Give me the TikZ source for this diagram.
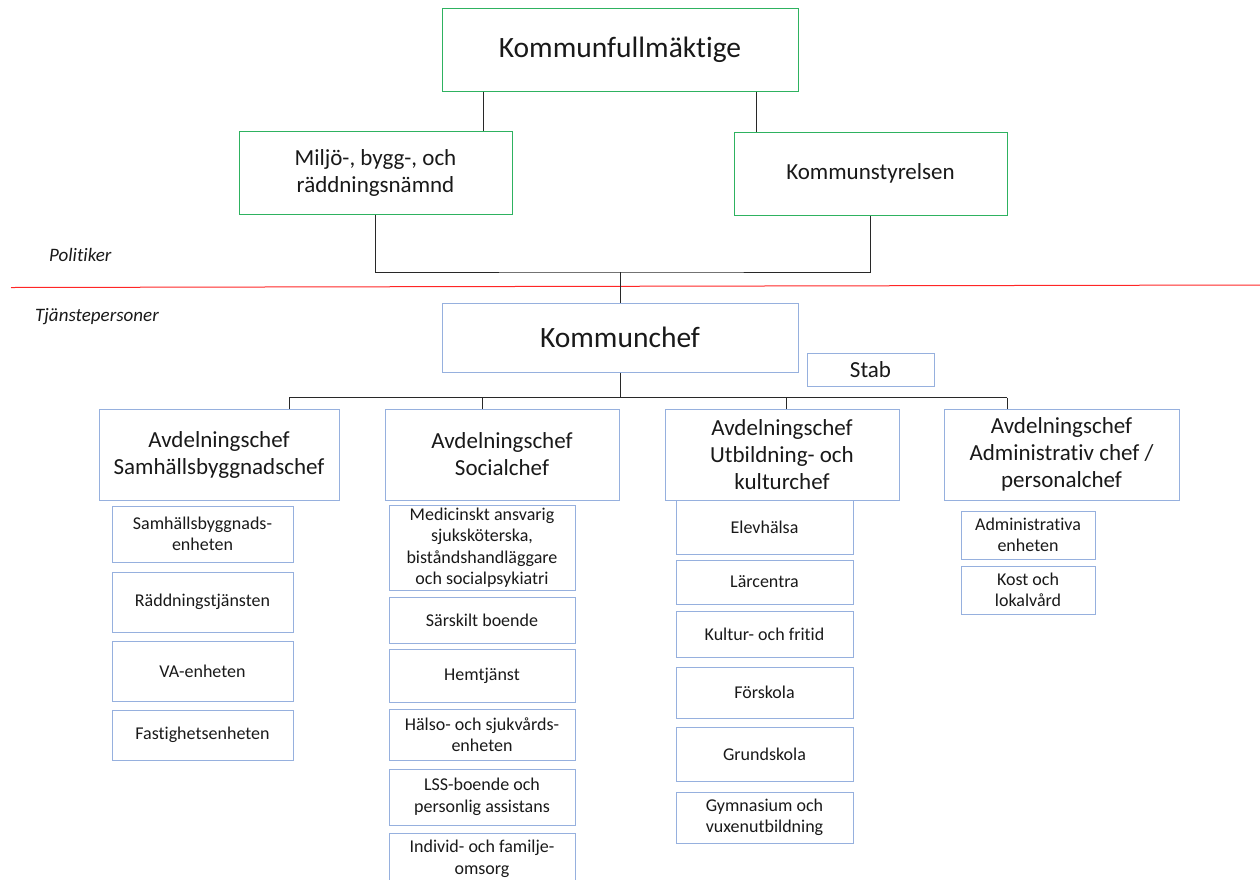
\documentclass[tikz,border=0pt]{standalone}
\usepackage{fontspec}
\setmainfont[Ligatures=NoCommon]{Carlito}
\usepackage{xcolor}
\usepackage{tikz}
\usetikzlibrary{positioning, calc}

\definecolor{polgreen}{RGB}{46,178,96}
\definecolor{tjblue}{RGB}{150,176,222}
\definecolor{linjegra}{RGB}{40,40,40}
\definecolor{textgra}{RGB}{25,25,25}

\begin{document}
\begin{tikzpicture}[x=1pt, y=-1pt,
    box/.style={rectangle, inner sep=0pt, align=center, text=textgra},
    polbox/.style={box, draw=polgreen, line width=1pt},
    tjbox/.style={box, draw=tjblue, line width=1pt},
    stortext/.style={font=\fontsize{29.5}{35}\selectfont},
    mellantext/.style={font=\fontsize{23}{27}\selectfont},
    litentext/.style={font=\fontsize{18}{21.5}\selectfont},
    avd/.style={tjbox, mellantext, minimum width=235pt, minimum height=91pt},
    enhet/.style={tjbox, litentext},
    linje/.style={draw=linjegra, line width=1pt}]
    \useasboundingbox (0,0) rectangle (1260,879);
    \clip (0,0) rectangle (1260,879);

    % Politiker
    \node[polbox, stortext, minimum width=356pt, minimum height=83pt] (kf) at (620,49.5) {Kommunfullmäktige};
    \node[polbox, mellantext, minimum width=273pt, minimum height=83pt] (miljo) at (375.5,172.5) {Miljö-, bygg-, och\\räddningsnämnd};
    \node[polbox, mellantext, minimum width=273pt, minimum height=83pt] (ks) at (870.5,173.5) {Kommunstyrelsen};

    \coordinate (kfv) at (483,0);
    \coordinate (kfh) at (756,0);
    \draw[linje] (kf.south -| kfv) -- (miljo.north -| kfv);
    \draw[linje] (kf.south -| kfh) -- (ks.north -| kfh);
    \coordinate (polbar) at (620,272);
    \draw[linje] (miljo.south) |- (polbar) -| (ks.south);

    % skiljelinje
    \node[font=\fontsize{19}{22}\selectfont\itshape, text=textgra, anchor=west, inner sep=0pt] (politiker) at (49,255) {Politiker};
    \node[font=\fontsize{19}{22}\selectfont\itshape, text=textgra, anchor=west, inner sep=0pt] (tjp) at (35,317) {Tjänstepersoner};
    \coordinate (rodv) at (11,287.5);
    \coordinate (rodh) at (1260,285);
    \draw[red!85, line width=1pt] (rodv) -- (rodh);

    % Tjänstepersoner
    \node[tjbox, stortext, minimum width=356pt, minimum height=69pt] (kchef) at (620,337.5) {Kommunchef};
    \node[tjbox, mellantext, minimum width=127pt, minimum height=33pt] (stab) at (870.5,369.5) {Stab};
    \draw[linje] (polbar) -- (kchef.north);

    \node[avd, minimum width=240pt] (samh) at (219,454.5) {Avdelningschef\\Samhällsbyggnadschef};
    \node[avd, minimum width=234pt] (social) at (502,454.5) {Avdelningschef\\Socialchef};
    \node[avd, minimum width=234pt] (utb) at (782,454.5) {Avdelningschef\\Utbildning- och\\kulturchef};
    \node[avd] (admin) at (1061.5,454.5) {Avdelningschef\\Administrativ chef /\\personalchef};

    \coordinate (avdbar) at (620,397.5);
    \coordinate (d1) at (289,397.5);
    \coordinate (d2) at (482,397.5);
    \coordinate (d3) at (786,397.5);
    \coordinate (d4) at (1007,397.5);
    \draw[linje] (kchef.south) -- (avdbar);
    \draw[linje] (d1) -- (d4);
    \draw[linje] (d1) -- (samh.north -| d1);
    \draw[linje] (d2) -- (social.north -| d2);
    \draw[linje] (d3) -- (utb.north -| d3);
    \draw[linje] (d4) -- (admin.north -| d4);

    % enheter samhällsbyggnad
    \node[enhet, minimum width=181pt, minimum height=56pt] (s1) at (202.5,534) {Samhällsbyggnads-\\enheten};
    \node[enhet, minimum width=181pt, minimum height=60pt] (s2) at (202.5,602) {Räddningstjänsten};
    \node[enhet, minimum width=181pt, minimum height=60pt] (s3) at (202.5,671) {VA-enheten};
    \node[enhet, minimum width=181pt, minimum height=50pt] (s4) at (202.5,735) {Fastighetsenheten};

    % enheter social
    \node[enhet, minimum width=186pt, minimum height=85pt] (o1) at (482,547.5) {Medicinskt ansvarig\\sjuksköterska,\\biståndshandläggare\\och socialpsykiatri};
    \node[enhet, minimum width=186pt, minimum height=46pt] (o2) at (482,620) {Särskilt boende};
    \node[enhet, minimum width=186pt, minimum height=53pt] (o3) at (482,675.5) {Hemtjänst};
    \node[enhet, minimum width=186pt, minimum height=51pt] (o4) at (482,734.5) {Hälso- och sjukvårds-\\enheten};
    \node[enhet, minimum width=186pt, minimum height=56pt] (o5) at (482,797) {LSS-boende och\\personlig assistans};
    \node[enhet, minimum width=186pt, minimum height=52pt] (o6) at (482,859) {Individ- och familje-\\omsorg};

    % enheter utbildning
    \node[enhet, minimum width=177pt, minimum height=54pt] (u1) at (764.5,527) {Elevhälsa};
    \node[enhet, minimum width=177pt, minimum height=44pt] (u2) at (764.5,582) {Lärcentra};
    \node[enhet, minimum width=177pt, minimum height=46pt] (u3) at (764.5,634) {Kultur- och fritid};
    \node[enhet, minimum width=177pt, minimum height=51pt] (u4) at (764.5,692.5) {Förskola};
    \node[enhet, minimum width=177pt, minimum height=54pt] (u5) at (764.5,754) {Grundskola};
    \node[enhet, minimum width=177pt, minimum height=51pt] (u6) at (764.5,817.5) {Gymnasium och\\vuxenutbildning};

    % enheter administration
    \node[enhet, minimum width=134pt, minimum height=48pt] (a1) at (1028,535) {Administrativa\\enheten};
    \node[enhet, minimum width=134pt, minimum height=48pt] (a2) at (1028,590) {Kost och\\lokalvård};
\end{tikzpicture}
\end{document}
